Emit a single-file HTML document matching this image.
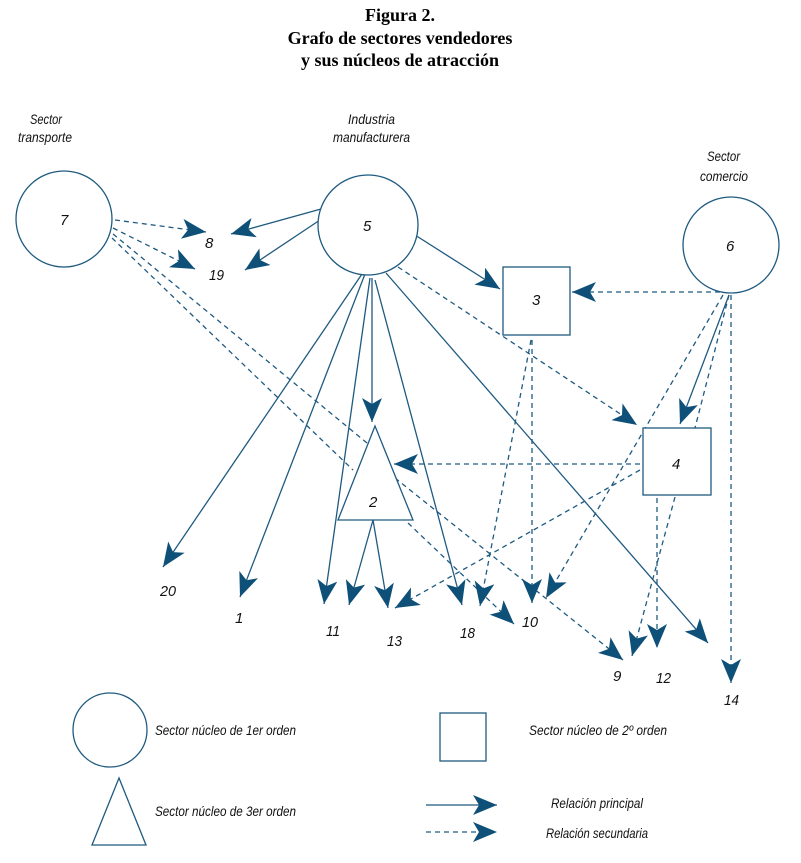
<!DOCTYPE html>
<html><head><meta charset="utf-8"><style>
body{margin:0;background:#fff}
svg{display:block}
.t{font-family:"Liberation Serif",serif;font-weight:bold;font-size:18px;fill:#000}
.l{font-family:"Liberation Sans",sans-serif;font-style:italic;font-size:14px;fill:#111}
.n{font-family:"Liberation Sans",sans-serif;font-style:italic;font-size:15px;fill:#111}
.s{stroke:#1f5a80;stroke-width:1.3;fill:none}
.d{stroke:#1f5a80;stroke-width:1.3;fill:none;stroke-dasharray:5,4}
</style></head><body>
<svg width="801" height="863" viewBox="0 0 801 863" xmlns="http://www.w3.org/2000/svg">
<defs>
<marker id="a" markerUnits="userSpaceOnUse" markerWidth="26" markerHeight="22" refX="24" refY="10" orient="auto">
<path d="M0,0 L24,10 L0,20 L6,10 z" fill="#0e5078"/></marker>
</defs>
<text class="t" x="400" y="21" text-anchor="middle">Figura 2.</text>
<text class="t" x="400" y="44" text-anchor="middle">Grafo de sectores vendedores</text>
<text class="t" x="400" y="66" text-anchor="middle">y sus núcleos de atracción</text>

<text class="l" x="30" y="124" textLength="32" lengthAdjust="spacingAndGlyphs">Sector</text>
<text class="l" x="18" y="142" textLength="54" lengthAdjust="spacingAndGlyphs">transporte</text>
<text class="l" x="348" y="124" textLength="47" lengthAdjust="spacingAndGlyphs">Industria</text>
<text class="l" x="333" y="142" textLength="77" lengthAdjust="spacingAndGlyphs">manufacturera</text>
<text class="l" x="707" y="161" textLength="33" lengthAdjust="spacingAndGlyphs">Sector</text>
<text class="l" x="700" y="181" textLength="48" lengthAdjust="spacingAndGlyphs">comercio</text>

<g class="d">
<line x1="115" y1="220" x2="206" y2="232" marker-end="url(#a)"/>
<line x1="113" y1="228" x2="195" y2="269" marker-end="url(#a)"/>
<line x1="113" y1="234" x2="367" y2="443"/>
<line x1="112" y1="238" x2="353" y2="470"/>
<line x1="395" y1="478" x2="623" y2="660" marker-end="url(#a)"/>
<line x1="408" y1="523" x2="514" y2="624" marker-end="url(#a)"/>
<line x1="398" y1="267" x2="637" y2="425" marker-end="url(#a)"/>
<line x1="729" y1="292" x2="572" y2="292" marker-end="url(#a)"/>
<line x1="532" y1="340" x2="532" y2="603" marker-end="url(#a)"/>
<line x1="531" y1="340" x2="480" y2="606" marker-end="url(#a)"/>
<line x1="723" y1="295" x2="546" y2="598" marker-end="url(#a)"/>
<line x1="729" y1="295" x2="695" y2="428"/>
<line x1="731" y1="295" x2="731" y2="683" marker-end="url(#a)"/>
<line x1="640" y1="464" x2="394" y2="464" marker-end="url(#a)"/>
<line x1="640" y1="470" x2="395" y2="608" marker-end="url(#a)"/>
<line x1="657" y1="498" x2="657" y2="648" marker-end="url(#a)"/>
<line x1="675" y1="497" x2="632" y2="656" marker-end="url(#a)"/>
</g>
<g class="s">
<line x1="321" y1="209" x2="231" y2="234" marker-end="url(#a)"/>
<line x1="320" y1="220" x2="245" y2="270" marker-end="url(#a)"/>
<line x1="415" y1="235" x2="500" y2="289" marker-end="url(#a)"/>
<line x1="362" y1="274" x2="163" y2="567" marker-end="url(#a)"/>
<line x1="365" y1="274" x2="240" y2="597" marker-end="url(#a)"/>
<line x1="372" y1="278" x2="372" y2="422" marker-end="url(#a)"/>
<line x1="370" y1="278" x2="324" y2="604" marker-end="url(#a)"/>
<line x1="375" y1="280" x2="462" y2="605" marker-end="url(#a)"/>
<line x1="386" y1="273" x2="708" y2="643" marker-end="url(#a)"/>
<line x1="373" y1="520" x2="349" y2="605" marker-end="url(#a)"/>
<line x1="373" y1="520" x2="388" y2="608" marker-end="url(#a)"/>
<line x1="729" y1="295" x2="680" y2="424" marker-end="url(#a)"/>
</g>
<g class="s">
<circle cx="64" cy="219" r="48" style="fill:#fff"/>
<circle cx="368" cy="225" r="50" style="fill:#fff"/>
<circle cx="731" cy="245" r="48" style="fill:#fff"/>
<rect x="503" y="267" width="67" height="68" style="fill:#fff"/>
<rect x="643" y="428" width="68" height="67" style="fill:#fff"/>
<polygon points="375,426 338,520 413,520" style="fill:#fff"/>
</g>
<text class="n" x="60" y="225">7</text>
<text class="n" x="363" y="231">5</text>
<text class="n" x="726" y="251">6</text>
<text class="n" x="532" y="305">3</text>
<text class="n" x="672" y="469">4</text>
<text class="n" x="369" y="507">2</text>

<text class="n" x="205" y="248">8</text>
<text class="n" x="209" y="280" textLength="15" lengthAdjust="spacingAndGlyphs">19</text>
<text class="n" x="160" y="596" textLength="16" lengthAdjust="spacingAndGlyphs">20</text>
<text class="n" x="235" y="623">1</text>
<text class="n" x="326" y="636" textLength="14" lengthAdjust="spacingAndGlyphs">11</text>
<text class="n" x="387" y="646" textLength="15" lengthAdjust="spacingAndGlyphs">13</text>
<text class="n" x="460" y="638" textLength="15" lengthAdjust="spacingAndGlyphs">18</text>
<text class="n" x="522" y="627" textLength="16" lengthAdjust="spacingAndGlyphs">10</text>
<text class="n" x="613" y="681">9</text>
<text class="n" x="656" y="683" textLength="15" lengthAdjust="spacingAndGlyphs">12</text>
<text class="n" x="724" y="705" textLength="15" lengthAdjust="spacingAndGlyphs">14</text>

<circle class="s" cx="110" cy="730" r="37"/>
<rect class="s" x="440" y="713" width="46" height="48"/>
<polygon class="s" points="119,778 92,845 146,845"/>
<line class="s" x1="426" y1="805" x2="497" y2="805" marker-end="url(#a)"/>
<line class="d" x1="426" y1="832" x2="497" y2="832" marker-end="url(#a)"/>
<text class="l" x="155" y="735" textLength="141" lengthAdjust="spacingAndGlyphs">Sector núcleo de 1er orden</text>
<text class="l" x="529" y="735" textLength="138" lengthAdjust="spacingAndGlyphs">Sector núcleo de 2º orden</text>
<text class="l" x="155" y="816" textLength="141" lengthAdjust="spacingAndGlyphs">Sector núcleo de 3er orden</text>
<text class="l" x="551" y="808" textLength="92" lengthAdjust="spacingAndGlyphs">Relación principal</text>
<text class="l" x="546" y="838" textLength="102" lengthAdjust="spacingAndGlyphs">Relación secundaria</text>
</svg>
</body></html>
